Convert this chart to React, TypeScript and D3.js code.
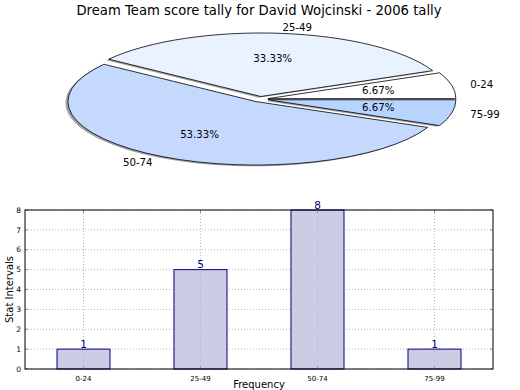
import React from "react";
import * as d3 from "d3";

const TITLE = "Dream Team score tally for David Wojcinski - 2006 tally";
const categories = ["0-24", "25-49", "50-74", "75-99"];
const counts = [1, 5, 8, 1];
const pieColors = ["#ffffff", "#eaf1ff", "#c5d9ff", "#b6d4ff"];
const yTicks = [0, 1, 2, 3, 4, 5, 6, 7, 8];

const FONT = "DejaVu Sans, sans-serif";

export default function App() {
  const W = 520, H = 390;
  // pie geometry
  const cx = 260, cy = 99.2, rx = 188, ry = 63.5, explode = 0.043;
  const pie = d3.pie<number>().sort(null).startAngle(0).endAngle(2 * Math.PI);
  const arcs = pie(counts);
  const total = d3.sum(counts);

  const slicePath = (a0: number, a1: number, ox: number, oy: number) => {
    const x0 = ox + rx * Math.cos(a0), y0 = oy - ry * Math.sin(a0);
    const x1 = ox + rx * Math.cos(a1), y1 = oy - ry * Math.sin(a1);
    const large = a1 - a0 > Math.PI ? 1 : 0;
    return `M${ox},${oy}L${x0},${y0}A${rx},${ry} 0 ${large} 0 ${x1},${y1}Z`;
  };

  const slices = arcs.map((a, i) => {
    const mid = (a.startAngle + a.endAngle) / 2;
    const ox = cx + explode * rx * Math.cos(mid);
    const oy = cy - explode * ry * Math.sin(mid);
    const lx = ox + 1.1 * rx * Math.cos(mid);
    const ly = oy - 1.1 * ry * Math.sin(mid);
    const px = ox + 0.6 * rx * Math.cos(mid);
    const py = oy - 0.6 * ry * Math.sin(mid);
    return {
      i, a, mid, ox, oy, lx, ly, px, py,
      d: slicePath(a.startAngle, a.endAngle, ox, oy),
      ds: slicePath(a.startAngle, a.endAngle, ox - 2.5, oy + 1.2),
    };
  });

  // bar chart
  const left = 25, right = 493, top = 210, bottom = 369;
  const x = d3.scalePoint<string>().domain(categories).range([left, right]).padding(0.5);
  const y = d3.scaleLinear().domain([0, 8]).range([bottom, top]);
  const barW = x.step() * 0.453;

  return (
    <svg width={W} height={H} style={{ position: "absolute", left: 0, top: 0, fontFamily: FONT }}>
      <rect width={W} height={H} fill="#ffffff" />
      <text x={259} y={15} textAnchor="middle" fontSize={13.2} fill="#000">{TITLE}</text>

      {/* shadows */}
      {slices.map((s) => (
        <path key={"s" + s.i} d={s.ds} fill="#555" opacity={0.55} stroke="none" />
      ))}
      {slices.map((s) => (
        <path key={"p" + s.i} d={s.d} fill={pieColors[s.i]} stroke="#000" strokeWidth={0.8} strokeLinejoin="round" />
      ))}
      {slices.map((s) => (
        <text key={"l" + s.i} x={s.lx} y={s.ly} dy="0.35em" fontSize={10.2}
          textAnchor={Math.cos(s.mid) >= 0 ? "start" : "end"} fill="#000">{categories[s.i]}</text>
      ))}
      {slices.map((s) => (
        <text key={"t" + s.i} x={s.px} y={s.py} dy="0.35em" fontSize={10.2} textAnchor="middle" fill="#000">
          {((counts[s.i] / total) * 100).toFixed(2) + "%"}
        </text>
      ))}

      {/* bar chart grid */}
      {yTicks.map((t) => (
        <line key={"gy" + t} x1={left} x2={right} y1={y(t)} y2={y(t)} stroke="#b8b8b8" strokeWidth={1} strokeDasharray="1,2" />
      ))}
      {/* bars */}
      {categories.map((c, i) => (
        <rect key={"b" + c} x={(x(c) as number) - barW / 2} y={y(counts[i])} width={barW} height={bottom - y(counts[i])}
          fill="#ccccE4" stroke="#000080" strokeWidth={1} />
      ))}
      {categories.map((c) => (
        <line key={"gx" + c} x1={x(c)} x2={x(c)} y1={top} y2={bottom} stroke="#b8b8b8" strokeWidth={1} strokeDasharray="1,2" />
      ))}
      {/* ticks */}
      {yTicks.map((t) => (
        <g key={"ty" + t}>
          <line x1={left} x2={left + 3} y1={y(t)} y2={y(t)} stroke="#999" />
          <line x1={right - 3} x2={right} y1={y(t)} y2={y(t)} stroke="#999" />
          <text x={left - 4} y={y(t)} dy="0.35em" textAnchor="end" fontSize={7.5} fill="#000">{t}</text>
        </g>
      ))}
      {categories.map((c) => (
        <g key={"tx" + c}>
          <line x1={x(c)} x2={x(c)} y1={bottom} y2={bottom - 3} stroke="#999" />
          <line x1={x(c)} x2={x(c)} y1={top} y2={top + 3} stroke="#999" />
          <text x={x(c)} y={381} textAnchor="middle" fontSize={7} fill="#000">{c}</text>
        </g>
      ))}
      <rect x={left} y={top} width={right - left} height={bottom - top} fill="none" stroke="#000" strokeWidth={1} />
      {categories.map((c, i) => (
        <text key={"v" + c} x={x(c)} y={y(counts[i]) - 1.5} textAnchor="middle" fontSize={10.5} fill="#000080">{counts[i]}</text>
      ))}
      <text transform={`translate(12.5,${(top + bottom) / 2}) rotate(-90)`} textAnchor="middle" fontSize={10} fill="#000">Stat Intervals</text>
      <text x={259} y={388} textAnchor="middle" fontSize={10} fill="#000">Frequency</text>
    </svg>
  );
}
